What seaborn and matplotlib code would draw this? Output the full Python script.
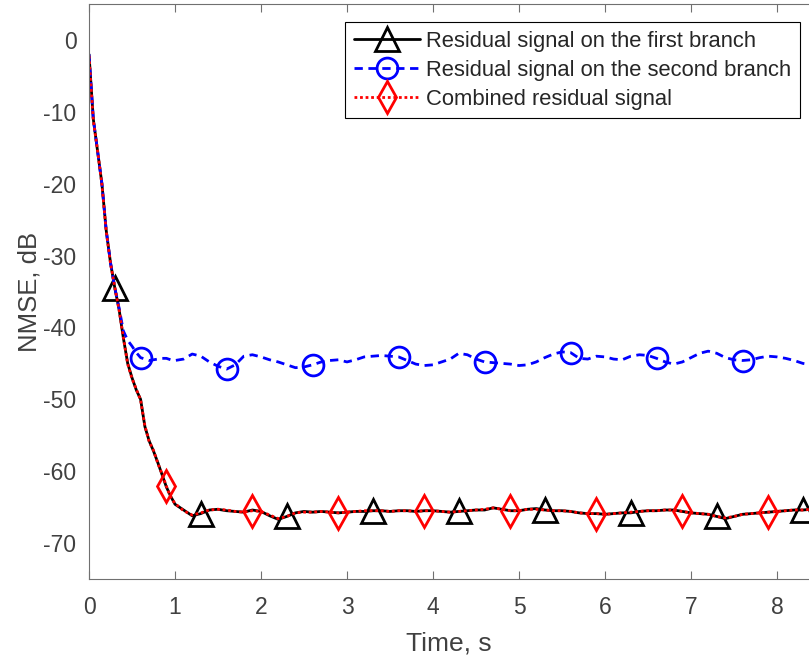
import numpy as np
import pandas as pd
import matplotlib
matplotlib.use("Agg")
import matplotlib.pyplot as plt
from matplotlib.lines import Line2D
import seaborn as sns

# ---------------- data ----------------
time_early = [0.00, 0.05, 0.10, 0.15, 0.20, 0.25, 0.30, 0.35, 0.40, 0.45,
              0.50, 0.55, 0.60, 0.65, 0.70, 0.75, 0.80, 0.85, 0.90, 0.95, 1.00]
time_late = [round(1.1 + 0.1 * i, 1) for i in range(74)]
time_s = time_early + time_late

first_branch = [
    -2.0, -11.0, -15.5, -20.0, -26.5, -31.0, -34.5, -37.5, -41.5, -45.0,
    -47.0, -48.7, -50.0, -53.8, -55.8, -57.2, -58.8, -60.5, -62.2, -63.5, -64.6,
    -65.4, -66.2, -65.9, -65.4, -65.3, -65.5, -65.6, -65.7, -65.4, -65.6,
    -66.2, -66.7, -66.3, -65.8, -65.6, -65.7, -65.6, -65.7, -65.8, -65.7,
    -65.6, -65.6, -65.5, -65.5, -65.6, -65.5, -65.5, -65.6, -65.5, -65.5,
    -65.6, -65.7, -65.6, -65.5, -65.4, -65.4, -65.1, -65.3, -65.5, -65.5,
    -65.3, -65.2, -65.4, -65.5, -65.5, -65.6, -65.8, -65.9, -65.9, -66.0,
    -65.9, -65.8, -65.8, -65.6, -65.5, -65.5, -65.4, -65.4, -65.6, -65.8,
    -65.9, -66.0, -66.3, -66.6, -66.3, -66.0, -65.9, -65.8, -65.7, -65.6,
    -65.5, -65.4, -65.4, -65.3,
]

second_branch = [
    -2.0, -11.0, -15.5, -20.0, -26.5, -31.0, -34.5, -37.3, -40.5, -41.8,
    -42.6, -43.5, -44.2, -44.4, -44.6, -44.5, -44.4, -44.3, -44.3, -44.5, -44.6,
    -44.4, -43.7, -44.0, -44.8, -45.4, -45.8, -45.2, -44.0, -43.8, -44.1,
    -44.5, -44.8, -45.2, -45.6, -45.5, -45.2, -44.8, -44.6, -44.5, -44.8,
    -44.5, -44.1, -44.0, -43.9, -44.0, -44.1, -44.6, -45.1, -45.3, -45.2,
    -44.8, -44.4, -43.6, -43.8, -44.4, -44.8, -44.9, -45.0, -45.1, -45.3,
    -45.2, -44.8, -44.2, -43.7, -43.4, -43.5, -44.3, -44.4, -44.0, -44.1,
    -44.4, -44.5, -44.0, -43.8, -43.9, -44.3, -44.8, -45.1, -44.8, -44.2,
    -43.6, -43.3, -43.6, -44.2, -44.5, -44.6, -44.5, -44.2, -44.0, -44.1,
    -44.3, -44.6, -45.0, -45.2,
]

combined = [
    -2.2, -11.2, -15.4, -20.1, -26.6, -31.1, -34.4, -37.6, -41.4, -45.1,
    -47.1, -48.6, -50.1, -53.7, -55.9, -57.1, -58.9, -60.4, -62.1, -63.6, -64.5,
    -65.5, -66.1, -65.8, -65.4, -65.3, -65.4, -65.6, -65.7, -65.5, -65.6,
    -66.1, -66.6, -66.3, -65.8, -65.7, -65.7, -65.6, -65.7, -65.8, -65.7,
    -65.6, -65.5, -65.5, -65.5, -65.6, -65.5, -65.5, -65.6, -65.5, -65.5,
    -65.6, -65.7, -65.6, -65.5, -65.4, -65.3, -65.1, -65.3, -65.5, -65.5,
    -65.3, -65.3, -65.4, -65.5, -65.5, -65.6, -65.8, -65.9, -65.9, -66.0,
    -65.9, -65.8, -65.7, -65.6, -65.5, -65.5, -65.4, -65.4, -65.6, -65.8,
    -65.9, -66.0, -66.3, -66.5, -66.3, -66.0, -65.9, -65.8, -65.7, -65.6,
    -65.5, -65.4, -65.4, -65.3,
]

marker_times_first = [0.3, 1.3, 2.3, 3.3, 4.3, 5.3, 6.3, 7.3, 8.3]
marker_times_second = [0.6, 1.6, 2.6, 3.6, 4.6, 5.6, 6.6, 7.6]
marker_times_combined = [0.9, 1.9, 2.9, 3.9, 4.9, 5.9, 6.9, 7.9]

labels = ["Residual signal on the first branch",
          "Residual signal on the second branch",
          "Combined residual signal"]
x_ticks = [0, 1, 2, 3, 4, 5, 6, 7, 8]
y_ticks = [-70, -60, -50, -40, -30, -20, -10, 0]

# ---------------- style ----------------
sns.set_theme(style="white")
plt.rcParams["font.family"] = ["Liberation Sans", "DejaVu Sans"]
plt.rcParams["axes.unicode_minus"] = False

W, H = 809, 662
fig = plt.figure(figsize=(W / 100, H / 100), dpi=100)
left, top, bottom = 89, 4, 579
ax = fig.add_axes([left / W, 1 - bottom / H, 1 - left / W, (bottom - top) / H])

df = pd.DataFrame({"t": time_s, "first": first_branch,
                   "second": second_branch, "comb": combined})

def mark_idx(times):
    return [int(np.argmin(np.abs(df["t"].values - m))) for m in times]

styles = [
    dict(col="first", color="black", ls="-", marker="^", ms=17, idx=mark_idx(marker_times_first)),
    dict(col="second", color="blue", ls=(0, (3, 2)), marker="o", ms=15, idx=mark_idx(marker_times_second)),
    dict(col="comb", color="red", ls=(0, (1, 1)), marker="d", ms=16, idx=mark_idx(marker_times_combined)),
]

handles = []
for st, lab in zip(styles, labels):
    sns.lineplot(data=df, x="t", y=st["col"], ax=ax, color=st["color"],
                 linewidth=2, linestyle=st["ls"], marker=st["marker"],
                 markersize=st["ms"], markerfacecolor="none",
                 markeredgecolor=st["color"], markeredgewidth=2,
                 markevery=st["idx"], legend=False, estimator=None, sort=False)
    handles.append(Line2D([], [], color=st["color"], linewidth=2, linestyle=st["ls"],
                          marker=st["marker"], markersize=st["ms"],
                          markerfacecolor="none", markeredgecolor=st["color"],
                          markeredgewidth=2))

ax.set_xlim(0, (W - left) / 86.0)
ax.set_ylim(-75, 5)
ax.set_xticks(x_ticks)
ax.set_yticks(y_ticks)

text_col = "#404040"
spine_col = "#707070"
for side in ["left", "top", "bottom"]:
    ax.spines[side].set_color(spine_col)
    ax.spines[side].set_linewidth(0.8)
ax.spines["right"].set_visible(False)
ax.xaxis.set_ticks_position("both")
ax.tick_params(axis="both", direction="in", length=6, width=0.8,
               color=spine_col, labelcolor=text_col, labelsize=16.5)
ax.tick_params(axis="x", pad=12)
ax.tick_params(axis="y", right=False, pad=9)

ax.set_xlabel("Time, s", fontsize=19, color=text_col, labelpad=9)
ax.set_ylabel("NMSE, dB", fontsize=18.5, color=text_col, labelpad=1)

leg = ax.legend(handles, labels, loc="upper right",
                bbox_to_anchor=(800 / W, 1 - 22 / H), bbox_transform=fig.transFigure,
                fontsize=15.8, frameon=True, fancybox=False, shadow=False,
                handlelength=3.0, handletextpad=0.3, borderpad=0.4,
                labelspacing=0.36, borderaxespad=0)
leg.get_frame().set_edgecolor("black")
leg.get_frame().set_linewidth(0.8)
leg.get_frame().set_facecolor("white")
leg.get_frame().set_alpha(1)

fig.savefig("out.png", dpi=100)
